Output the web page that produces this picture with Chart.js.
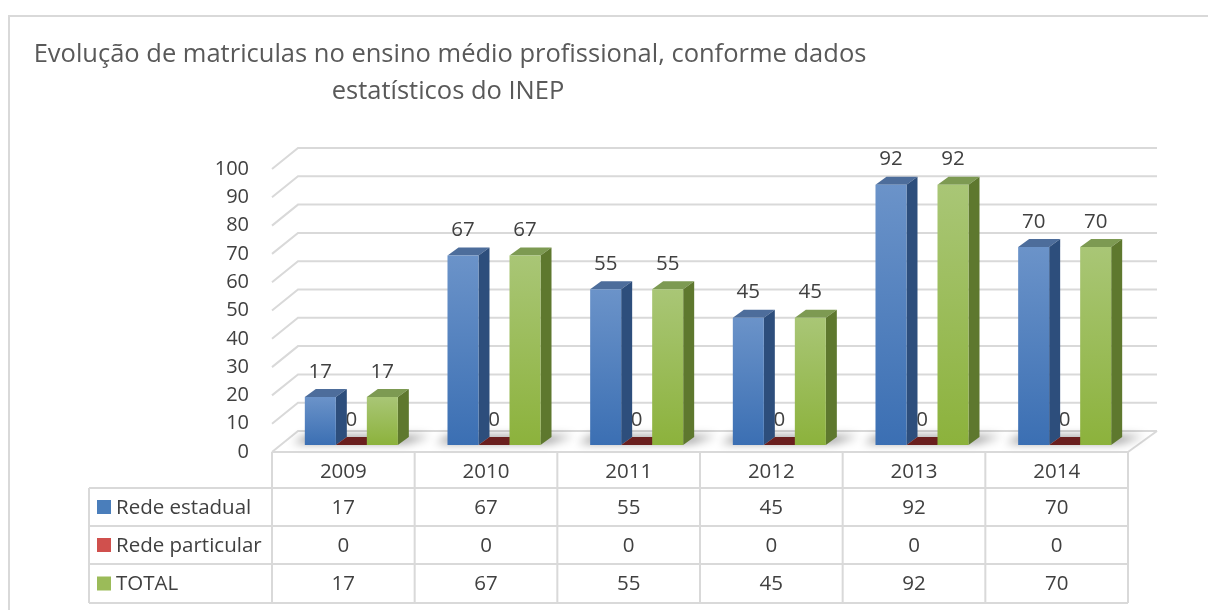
<!DOCTYPE html>
<html lang="pt">
<head>
  <meta charset="UTF-8" />
  <title>Matrículas ensino médio profissional</title>
  <script src="https://cdn.jsdelivr.net/npm/chart.js"></script>
  <style>
    * { margin: 0; padding: 0; box-sizing: border-box; }
    body { background: #fff; width: 1208px; height: 610px; overflow: hidden; }
    #chart { display: block; }
  </style>
</head>
<body>
  <canvas id="chart" width="1208" height="610"></canvas>

  <script>
    // data
    const years = ['2009', '2010', '2011', '2012', '2013', '2014'];
    const redeEstadual = [17, 67, 55, 45, 92, 70];
    const redeParticular = [0, 0, 0, 0, 0, 0];
    const total = [17, 67, 55, 45, 92, 70];
    const seriesNames = ['Rede estadual', 'Rede particular', 'TOTAL'];
    const titleLines = ['Evolução de matriculas no ensino médio profissional, conforme dados', 'estatísticos do INEP'];

    const FONT = '"Open Sans", sans-serif';
    const TEXT = '#404040';
    const LINE = '#d9d9d9';
    const DX = 11, DY = -8;        // bar depth
    const BX = 26, BY = -21;       // wall depth

    const palette = [
      { light: '#6b93c9', dark: '#3b6fb3', top: '#4d6d9b', side: '#2d4e7c', key: '#4a7ebb' },
      { light: '#c0504d', dark: '#a33e3b', top: '#6a1f1e', side: '#4d1514', key: '#d0504d' },
      { light: '#a9c676', dark: '#8cb23c', top: '#7d9a52', side: '#5e782e', key: '#9bbb59' }
    ];

    function frontGrad(c, i) {
      const p = palette[i];
      if (c.type !== 'data') return p.dark;
      const y = c.chart.scales.y;
      const top = y.getPixelForValue(c.raw);
      const base = y.getPixelForValue(0);
      if (!(base - top > 1)) return p.dark;
      const g = c.chart.ctx.createLinearGradient(0, top, 0, base);
      g.addColorStop(0, p.light);
      g.addColorStop(1, p.dark);
      return g;
    }

    const decor = {
      id: 'decor',
      beforeDraw(chart) {
        const { ctx } = chart;
        const yS = chart.scales.y, xS = chart.scales.x;
        ctx.save();
        // outer frame
        ctx.strokeStyle = LINE;
        ctx.lineWidth = 2;
        ctx.beginPath();
        ctx.moveTo(9, 610); ctx.lineTo(9, 16); ctx.lineTo(1208, 16);
        ctx.stroke();

        // title
        ctx.fillStyle = '#595959';
        ctx.font = '25.5px ' + FONT;
        ctx.textAlign = 'center';
        ctx.textBaseline = 'middle';
        ctx.fillText(titleLines[0], 450, 55);
        ctx.fillText(titleLines[1], 448, 92);

        // back wall grid + side wall diagonals
        const catW = xS.getPixelForValue(1) - xS.getPixelForValue(0);
        const left = xS.getPixelForValue(0) - catW / 2 - 8;
        const right = xS.getPixelForValue(years.length - 1) + catW / 2 - 8;
        ctx.lineWidth = 2;
        ctx.strokeStyle = LINE;
        yS.ticks.forEach(t => {
          const py = yS.getPixelForValue(t.value);
          ctx.beginPath();
          ctx.moveTo(left, py + 7);
          ctx.lineTo(left + BX, py + 7 + BY);
          ctx.lineTo(right + BX + 3, py + 7 + BY);
          ctx.stroke();
        });
        // floor right edge
        const fy = yS.getPixelForValue(0) + 7;
        ctx.beginPath();
        ctx.moveTo(right, fy);
        ctx.lineTo(right + BX + 3, fy + BY);
        ctx.stroke();
        ctx.restore();
      },
      beforeDatasetsDraw(chart) {
        const { ctx } = chart;
        const metas = chart.data.datasets.map((d, i) => chart.getDatasetMeta(i));
        ctx.save();
        // soft shadow under each group
        ctx.filter = 'blur(5px)';
        ctx.fillStyle = 'rgba(0,0,0,0.45)';
        years.forEach((yr, j) => {
          const a = metas[0].data[j], b = metas[2].data[j];
          const l = a.x - a.width / 2, r = b.x + b.width / 2;
          ctx.beginPath();
          ctx.moveTo(l - 12, a.base - 2);
          ctx.lineTo(r + 8, a.base - 2);
          ctx.lineTo(r + DX + 22, a.base + DY - 1);
          ctx.lineTo(l + 2, a.base + DY - 1);
          ctx.closePath();
          ctx.fill();
        });
        ctx.filter = 'none';

        // value labels
        ctx.fillStyle = TEXT;
        ctx.font = '20.5px ' + FONT;
        ctx.textAlign = 'center';
        ctx.textBaseline = 'middle';
        metas.forEach((m, i) => {
          m.data.forEach((el, j) => {
            ctx.fillText(String(chart.data.datasets[i].data[j]), el.x, el.y - 25);
          });
        });

        // top and side faces, left to right
        years.forEach((yr, j) => {
          metas.forEach((m, i) => {
            const el = m.data[j];
            const p = palette[i];
            const l = el.x - el.width / 2, r = el.x + el.width / 2;
            ctx.fillStyle = p.top;
            ctx.beginPath();
            ctx.moveTo(l, el.y); ctx.lineTo(r, el.y);
            ctx.lineTo(r + DX, el.y + DY); ctx.lineTo(l + DX, el.y + DY);
            ctx.closePath(); ctx.fill();
            if (el.base - el.y > 0.5) {
              ctx.fillStyle = p.side;
              ctx.beginPath();
              ctx.moveTo(r, el.y); ctx.lineTo(r + DX, el.y + DY);
              ctx.lineTo(r + DX, el.base + DY); ctx.lineTo(r, el.base);
              ctx.closePath(); ctx.fill();
            }
          });
        });
        ctx.restore();
      },
      afterDraw(chart) {
        const { ctx } = chart;
        const xS = chart.scales.x;
        const catW = xS.getPixelForValue(1) - xS.getPixelForValue(0);
        const left = xS.getPixelForValue(0) - catW / 2 - 8;
        const right = xS.getPixelForValue(years.length - 1) + catW / 2 - 8;
        const rows = [452, 488, 526, 564, 603];
        const legL = 89;
        ctx.save();
        ctx.strokeStyle = LINE;
        ctx.lineWidth = 2;
        // horizontal lines
        ctx.beginPath();
        ctx.moveTo(left, rows[0]); ctx.lineTo(right, rows[0]);
        for (let k = 1; k < rows.length; k++) {
          ctx.moveTo(legL, rows[k]); ctx.lineTo(right, rows[k]);
        }
        // vertical lines
        ctx.moveTo(legL, rows[1]); ctx.lineTo(legL, rows[4]);
        for (let j = 0; j <= years.length; j++) {
          const x = left + j * catW;
          ctx.moveTo(x, rows[0]); ctx.lineTo(x, rows[4]);
        }
        ctx.stroke();

        ctx.fillStyle = TEXT;
        ctx.font = '20.5px ' + FONT;
        ctx.textBaseline = 'middle';
        ctx.textAlign = 'center';
        years.forEach((yr, j) => {
          const cx = left + (j + 0.5) * catW;
          ctx.fillText(yr, cx, (rows[0] + rows[1]) / 2 + 2);
          chart.data.datasets.forEach((ds, i) => {
            ctx.fillText(String(ds.data[j]), cx, (rows[i + 1] + rows[i + 2]) / 2 + 1);
          });
        });
        ctx.textAlign = 'left';
        chart.data.datasets.forEach((ds, i) => {
          const cy = (rows[i + 1] + rows[i + 2]) / 2;
          ctx.fillStyle = palette[i].key;
          ctx.fillRect(97, cy - 7, 14, 14);
          ctx.fillStyle = TEXT;
          ctx.fillText(ds.label, 116, cy + 1);
        });
        ctx.restore();
      }
    };

    new Chart(document.getElementById('chart'), {
      type: 'bar',
      data: {
        labels: years,
        datasets: [
          { label: seriesNames[0], data: redeEstadual, backgroundColor: c => frontGrad(c, 0) },
          { label: seriesNames[1], data: redeParticular, backgroundColor: c => frontGrad(c, 1) },
          { label: seriesNames[2], data: total, backgroundColor: c => frontGrad(c, 2) }
        ]
      },
      options: {
        responsive: false,
        animation: false,
        events: [],
        layout: { padding: { left: 180, right: 72, top: 162, bottom: 165 } },
        datasets: { bar: { barPercentage: 1, categoryPercentage: 0.652, borderWidth: 0 } },
        plugins: { legend: { display: false }, tooltip: { enabled: false }, title: { display: false } },
        scales: {
          x: { display: false },
          y: {
            min: 0, max: 100,
            afterFit(scale) { scale.width = 100; },
            border: { display: false },
            grid: { display: false, drawTicks: false },
            ticks: { stepSize: 10, padding: 31, labelOffset: 7, color: TEXT, font: { family: FONT, size: 20 } }
          }
        }
      },
      plugins: [decor]
    });
  </script>
</body>
</html>
